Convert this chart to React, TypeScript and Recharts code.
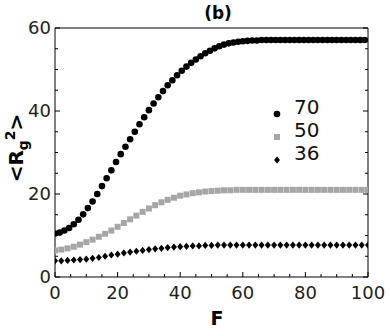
import React from 'react';
import { ScatterChart, Scatter, XAxis, YAxis, Legend } from 'recharts';

// F values (x) for each series
const fN70 = [
  0, 1.5, 3, 4.5, 6, 7.5, 9, 10.5, 12, 13.5, 15, 16.5, 18, 19.5, 21, 22.5, 24, 25.5, 27, 28.5,
  30, 31.5, 33, 34.5, 36, 37.5, 39, 40.5, 42, 43.5, 45, 46.5, 48, 49.5, 51, 52.5, 54, 55.5, 57, 58.5,
  60, 61.5, 63, 64.5, 66, 67.5, 69, 70.5, 72, 73.5, 75, 76.5, 78, 79.5, 81, 82.5, 84, 85.5, 87, 88.5,
  90, 91.5, 93, 94.5, 96, 97.5, 99,
];
const fStep2 = [
  0, 2, 4, 6, 8, 10, 12, 14, 16, 18, 20, 22, 24, 26, 28, 30, 32, 34, 36, 38, 40, 42, 44, 46, 48, 50,
  52, 54, 56, 58, 60, 62, 64, 66, 68, 70, 72, 74, 76, 78, 80, 82, 84, 86, 88, 90, 92, 94, 96, 98, 100,
];

// <Rg^2> values
const rgN70 = [
  10.5, 10.7, 11.2, 11.8, 12.7, 13.8, 15.1, 16.6, 18.2, 20.0, 21.9, 23.8, 25.7, 27.7, 29.6, 31.4,
  33.2, 35.0, 36.8, 38.5, 40.2, 41.8, 43.3, 44.8, 46.2, 47.4, 48.6, 49.7, 50.7, 51.6, 52.4, 53.2,
  53.9, 54.5, 55.1, 55.6, 56.0, 56.3, 56.5, 56.7, 56.8, 56.9, 57.0, 57.0, 57.1, 57.1, 57.1, 57.1,
  57.1, 57.1, 57.1, 57.1, 57.1, 57.1, 57.1, 57.1, 57.1, 57.1, 57.1, 57.1, 57.1, 57.1, 57.1, 57.1,
  57.1, 57.1, 57.1,
];
const rgN50 = [
  6.4, 6.6, 6.9, 7.3, 7.8, 8.4, 9.0, 9.7, 10.4, 11.2, 12.1, 13.0, 13.9, 14.8, 15.7, 16.5, 17.3,
  18.0, 18.6, 19.1, 19.6, 19.9, 20.2, 20.4, 20.6, 20.7, 20.8, 20.9, 20.9, 21.0, 21.0, 21.0, 21.0,
  21.0, 21.0, 21.0, 21.0, 21.0, 21.0, 21.0, 21.0, 21.0, 21.0, 21.0, 21.0, 21.0, 21.0, 21.0, 21.0,
  21.0, 21.0,
];
const rgN36 = [
  3.9, 3.9, 4.0, 4.1, 4.2, 4.3, 4.5, 4.7, 5.0, 5.3, 5.5, 5.8, 6.0, 6.2, 6.4, 6.6, 6.8, 6.9, 7.1,
  7.2, 7.3, 7.4, 7.5, 7.5, 7.6, 7.6, 7.7, 7.7, 7.7, 7.7, 7.7, 7.7, 7.7, 7.7, 7.7, 7.7, 7.7, 7.7,
  7.7, 7.7, 7.7, 7.7, 7.7, 7.7, 7.7, 7.7, 7.7, 7.7, 7.7, 7.7, 7.7,
];

const seriesNames = ['70', '50', '36'];
const xTicks = [0, 5, 10, 15, 20, 25, 30, 35, 40, 45, 50, 55, 60, 65, 70, 75, 80, 85, 90, 95, 100];
const yTicks = [0, 5, 10, 15, 20, 25, 30, 35, 40, 45, 50, 55, 60];

const FONT = '"DejaVu Sans", sans-serif';
const GRAY = '#a6a6a6';

const d70 = fN70.map((f, i) => ({ f, rg: rgN70[i] }));
const d50 = fStep2.map((f, i) => ({ f, rg: rgN50[i] }));
const d36 = fStep2.map((f, i) => ({ f, rg: rgN36[i] }));

const Dot = (p: any) => <circle cx={p.cx} cy={p.cy} r={3.3} fill="#000" />;
const Square = (p: any) => <rect x={p.cx - 3} y={p.cy - 3} width={6} height={6} fill={GRAY} />;
const Diamond = (p: any) => (
  <path d={`M${p.cx},${p.cy - 3.6}L${p.cx + 3},${p.cy}L${p.cx},${p.cy + 3.6}L${p.cx - 3},${p.cy}Z`} fill="#000" />
);

const BottomTick = ({ x, y, payload }: any) => {
  const major = payload.value % 20 === 0;
  return (
    <g>
      <line x1={x} x2={x} y1={y} y2={y - (major ? 5 : 3)} stroke="#000" />
      {major && (
        <text x={x} y={y + 22} textAnchor="middle" fontSize={18} fontFamily={FONT} fill="#222">
          {payload.value}
        </text>
      )}
    </g>
  );
};
const TopTick = ({ x, y, payload }: any) => {
  const major = payload.value % 20 === 0;
  return <line x1={x} x2={x} y1={y} y2={y + (major ? 5 : 3)} stroke="#000" />;
};
const LeftTick = ({ x, y, payload }: any) => {
  const major = payload.value % 20 === 0;
  return (
    <g>
      <line x1={x} x2={x + (major ? 5 : 3)} y1={y} y2={y} stroke="#000" />
      {major && (
        <text x={x - 4} y={y} dy="0.36em" textAnchor="end" fontSize={18} fontFamily={FONT} fill="#222">
          {payload.value}
        </text>
      )}
    </g>
  );
};
const RightTick = ({ x, y, payload }: any) => {
  const major = payload.value % 20 === 0;
  return <line x1={x} x2={x - (major ? 5 : 3)} y1={y} y2={y} stroke="#000" />;
};

const yLabel = () => (
  <text transform="translate(23,148) rotate(-90)" textAnchor="middle" fontSize={20} fontWeight="bold" fontFamily={FONT} fill="#000">
    {'<R'}
    <tspan fontSize={14} dy={5}>g</tspan>
    <tspan fontSize={14} dy={-13}>2</tspan>
    <tspan dy={8}>{'>'}</tspan>
  </text>
);
const xLabel = () => (
  <text x={217} y={325} textAnchor="middle" fontSize={19} fontWeight="bold" fontFamily={FONT} fill="#000">
    F
  </text>
);
const titleLabel = () => (
  <text x={218} y={19} textAnchor="middle" fontSize={17} fontWeight="bold" fontFamily={FONT} fill="#000">
    (b)
  </text>
);

const markers = [
  <svg width={12} height={12} key="m0"><circle cx={6} cy={6} r={3.3} fill="#000" /></svg>,
  <svg width={12} height={12} key="m1"><rect x={3} y={3} width={6} height={6} fill={GRAY} /></svg>,
  <svg width={12} height={12} key="m2"><path d="M6,2.4L9,6L6,9.6L3,6Z" fill="#000" /></svg>,
];

const renderLegend = () => (
  <div style={{ fontFamily: FONT, fontSize: 20, lineHeight: '23px', color: '#111' }}>
    {seriesNames.map((name, i) => (
      <div key={name} style={{ display: 'flex', alignItems: 'center', height: 23 }}>
        <span style={{ display: 'inline-block', width: 12, height: 12, marginRight: 11 }}>{markers[i]}</span>
        <span>{name}</span>
      </div>
    ))}
  </div>
);

export default function App() {
  return (
    <div style={{ position: 'absolute', left: 0, top: 0, background: '#fff' }}>
      <ScatterChart width={390} height={336} margin={{ top: 27, right: 21, bottom: 58, left: 54 }}>
        <XAxis
          xAxisId="b"
          dataKey="f"
          type="number"
          domain={[0, 100]}
          allowDataOverflow
          ticks={xTicks}
          interval={0}
          height={1}
          tickSize={0}
          tickMargin={0}
          tick={<BottomTick />}
          axisLine={{ stroke: '#000' }}
          label={xLabel}
        />
        <XAxis
          xAxisId="t"
          orientation="top"
          type="number"
          domain={[0, 100]}
          allowDataOverflow
          ticks={xTicks}
          interval={0}
          height={1}
          tickSize={0}
          tickMargin={0}
          tick={<TopTick />}
          axisLine={{ stroke: '#000' }}
          label={titleLabel}
        />
        <YAxis
          yAxisId="l"
          dataKey="rg"
          type="number"
          domain={[0, 60]}
          allowDataOverflow
          ticks={yTicks}
          interval={0}
          width={1}
          tickSize={0}
          tickMargin={0}
          tick={<LeftTick />}
          axisLine={{ stroke: '#000' }}
          label={yLabel}
        />
        <YAxis
          yAxisId="r"
          orientation="right"
          type="number"
          domain={[0, 60]}
          allowDataOverflow
          ticks={yTicks}
          interval={0}
          width={1}
          tickSize={0}
          tickMargin={0}
          tick={<RightTick />}
          axisLine={{ stroke: '#000' }}
        />
        <Scatter name="70" data={d70} xAxisId="b" yAxisId="l" shape={Dot} isAnimationActive={false} />
        <Scatter name="50" data={d50} xAxisId="b" yAxisId="l" shape={Square} isAnimationActive={false} />
        <Scatter name="36" data={d36} xAxisId="b" yAxisId="l" shape={Diamond} isAnimationActive={false} />
        <Legend
          layout="vertical"
          align="center"
          verticalAlign="middle"
          content={renderLegend}
          wrapperStyle={{ left: 271, top: 96, width: 'auto', height: 'auto' }}
        />
      </ScatterChart>
    </div>
  );
}
